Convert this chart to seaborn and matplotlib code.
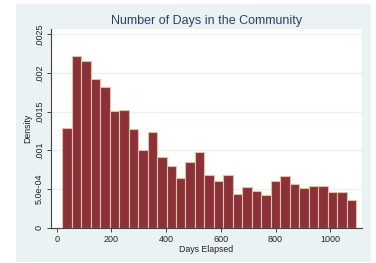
import numpy as np
import pandas as pd
import matplotlib
matplotlib.use("Agg")
import matplotlib.pyplot as plt
import seaborn as sns
from matplotlib.patches import Rectangle

# ---- data ----
bin_start = 20.5
bin_width = 34.64
densities = [0.001294, 0.002221, 0.002157, 0.001924, 0.001820, 0.001510,
             0.001527, 0.001277, 0.001005, 0.001234, 0.000919, 0.000794,
             0.000647, 0.000854, 0.000979, 0.000686, 0.000600, 0.000686,
             0.000436, 0.000522, 0.000475, 0.000419, 0.000600, 0.000669,
             0.000561, 0.000517, 0.000543, 0.000543, 0.000458, 0.000458,
             0.000354]
x_ticks = [0, 200, 400, 600, 800, 1000]
y_ticks = [0, 0.0005, 0.001, 0.0015, 0.002, 0.0025]
y_tick_labels = ["0", "5.0e-04", ".001", ".0015", ".002", ".0025"]
title = "Number of Days in the Community"
x_label = "Days Elapsed"
y_label = "Density"

n = len(densities)
edges = [float(bin_start + bin_width * i) for i in range(n + 1)]
centers = [(edges[i] + edges[i + 1]) / 2 for i in range(n)]
df = pd.DataFrame({"days": centers, "density": densities})

sns.set_style("white")
plt.rcParams["font.family"] = ["Liberation Sans", "DejaVu Sans"]

W, H = 376, 263
fig = plt.figure(figsize=(W / 100, H / 100), dpi=100)
fig.patch.set_facecolor("white")
# outer graph region (light blue-grey)
fig.patches.append(Rectangle((16 / W, 1 - 262 / H), (371 - 16) / W, (262 - 4) / H,
                             transform=fig.transFigure, facecolor="#EAF2F3",
                             edgecolor="none", zorder=-5))

left, right, top, bottom = 51, 362, 29.3, 227.7
ax = fig.add_axes([left / W, 1 - bottom / H, (right - left) / W, (bottom - top) / H])
ax.set_zorder(2)
ax.set_facecolor("white")

sns.histplot(data=df, x="days", weights="density", bins=edges, stat="count",
             ax=ax, color="#8C303C", edgecolor="#DCC59A", linewidth=0.8,
             alpha=1, zorder=3)

x_per_px = 200 / 54.7
ax.set_xlim(-(56.7 - left) * x_per_px, (right - 56.7) * x_per_px)
ax.set_ylim(0, 0.0025 + (34.3 - top) / 77.3 * 0.001)

ax.set_yticks(y_ticks)
ax.set_yticklabels(y_tick_labels, rotation=90, va="center")
ax.set_xticks(x_ticks)
ax.set_xticklabels([str(t) for t in x_ticks])
ax.yaxis.grid(True, color="#EAF2F3", linewidth=1.0, zorder=0)
ax.set_axisbelow(True)

for s in ["top", "right"]:
    ax.spines[s].set_visible(False)
for s in ["left", "bottom"]:
    ax.spines[s].set_color("#444444")
    ax.spines[s].set_linewidth(0.8)
ax.tick_params(axis="both", which="major", direction="out", length=3, width=0.7,
               color="#444444", labelsize=6.5, labelcolor="#222222", pad=2,
               left=True, bottom=True)

ax.set_xlabel(x_label, fontsize=6.3, color="#222222", labelpad=1)
ax.set_ylabel(y_label, fontsize=6.3, color="#222222", labelpad=2)
ax.set_title(title, fontsize=9, color="#2A4262", pad=4)

fig.savefig("out.png", dpi=100)
